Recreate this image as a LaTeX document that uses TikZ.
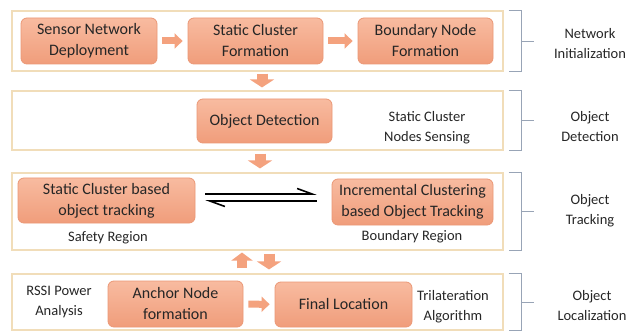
\documentclass[tikz,border=0pt]{standalone}
\usepackage{fontspec}
\setmainfont{Carlito}
\usetikzlibrary{arrows.meta}
\definecolor{nodetop}{HTML}{F8BBA0}
\definecolor{nodebot}{HTML}{F09D7B}
\definecolor{nodeline}{HTML}{EB9876}
\definecolor{rowline}{HTML}{F1DDB9}
\definecolor{arrowfill}{HTML}{F4A27E}
\definecolor{bracecol}{HTML}{98A4B6}
\definecolor{txt}{HTML}{262626}
\begin{document}
\begin{tikzpicture}[x=1pt,y=-1pt,
  rowbox/.style={draw=rowline, line width=1.1pt, fill=white, inner sep=0pt, minimum width=491pt},
  procbox/.style={rounded corners=6pt, draw=nodeline, line width=0.8pt, top color=nodetop, bottom color=nodebot,
    text=txt, font=\fontsize{16}{21}\selectfont, align=center, inner sep=0pt},
  lbl/.style={text=txt, font=\fontsize{14.5}{20}\selectfont, align=center, inner sep=0pt},
  sidelbl/.style={text=txt, font=\fontsize{14.5}{20}\selectfont, align=center, inner sep=0pt},
  smallarrow/.style={line width=7pt, arrowfill, -{Triangle[width=15pt,length=8pt]}, shorten <=5pt, shorten >=5pt},
  bigarrow/.style={line width=11pt, arrowfill, -{Triangle[width=24pt,length=8pt]}},
  harp/.style={line width=1.6pt, black, -{Straight Barb[left,length=15pt,width=11pt]}},
  bracepath/.style={draw=bracecol, line width=0.9pt}
]
\useasboundingbox (0,0) rectangle (642,331);

% row boxes
\node[rowbox, minimum height=60pt] (r1) at (257.5,41) {};
\node[rowbox, minimum height=59pt] (r2) at (257.5,120.5) {};
\node[rowbox, minimum height=77pt] (r3) at (257.5,211.5) {};
\node[rowbox, minimum height=56pt] (r4) at (257.5,302) {};

% process nodes
\node[procbox, minimum width=136pt, minimum height=46pt] (n1) at (89,41) {Sensor Network\\Deployment};
\node[procbox, minimum width=135pt, minimum height=46pt] (n2) at (255.5,41) {Static Cluster\\Formation};
\node[procbox, minimum width=135pt, minimum height=46pt] (n3) at (425.5,41) {Boundary Node\\Formation};
\node[procbox, minimum width=135pt, minimum height=44pt] (od) at (264.5,121) {Object Detection};
\node[procbox, minimum width=177pt, minimum height=45pt] (sc) at (106.5,200.5) {Static Cluster based\\object tracking};
\node[procbox, minimum width=161pt, minimum height=46pt] (ic) at (412.5,202) {Incremental Clustering\\based Object Tracking};
\node[procbox, minimum width=135pt, minimum height=46pt] (an) at (175.5,304) {Anchor Node\\formation};
\node[procbox, minimum width=137pt, minimum height=45pt] (fl) at (343.5,304.5) {Final Location};

% inner labels
\node[lbl] (l1) at (427,128) {Static Cluster\\Nodes Sensing};
\node[lbl] (l2) at (108,238) {Safety Region};
\node[lbl] (l3) at (412,237) {Boundary Region};
\node[lbl] (l4) at (59,302) {RSSI Power\\Analysis};
\node[lbl] (l5) at (453,307) {Trilateration\\Algorithm};

% side labels
\node[sidelbl] (s1) at (590,44) {Network\\Initialization};
\node[sidelbl] (s2) at (590,127) {Object\\Detection};
\node[sidelbl] (s3) at (590,211) {Object\\Tracking};
\node[sidelbl] (s4) at (592,306) {Object\\Localization};

% small arrows within rows
\draw[smallarrow] (n1) -- (n2);
\draw[smallarrow] (n2) -- (n3);
\draw[smallarrow] (an) -- (fl);

% arrows between rows
\draw[bigarrow, shorten <=2pt, shorten >=3pt] ([xshift=4.5pt]r1.south) -- ([xshift=4.5pt]r2.north);
\draw[bigarrow, shorten <=3pt, shorten >=4pt] ([xshift=2.5pt]r2.south) -- ([xshift=2.5pt]r3.north);
\draw[line width=10pt, arrowfill, -{Triangle[width=21pt,length=8pt]}, shorten <=5pt, shorten >=2pt] ([xshift=-15.5pt]r4.north) -- ([xshift=-15.5pt]r3.south);
\draw[bigarrow, shorten <=3pt, shorten >=4pt] ([xshift=11.5pt]r3.south) -- ([xshift=11.5pt]r4.north);

% harpoons
\draw[harp, shorten <=10pt, shorten >=15pt] ([yshift=6.5pt]sc.east) -- ([yshift=8pt]ic.west);
\draw[harp, shorten <=15pt, shorten >=10pt] ([yshift=1pt]ic.west) -- ([yshift=-0.5pt]sc.east);

% braces
\foreach \r in {r1,r2,r3,r4}{
  \draw[bracepath] ([xshift=5pt]\r.north east) -- ([xshift=18pt]\r.north east) -- ([xshift=18pt]\r.south east) -- ([xshift=5pt]\r.south east);
  \draw[bracepath] ([xshift=18pt]\r.east) -- ([xshift=30pt]\r.east);
}
\end{tikzpicture}
\end{document}
